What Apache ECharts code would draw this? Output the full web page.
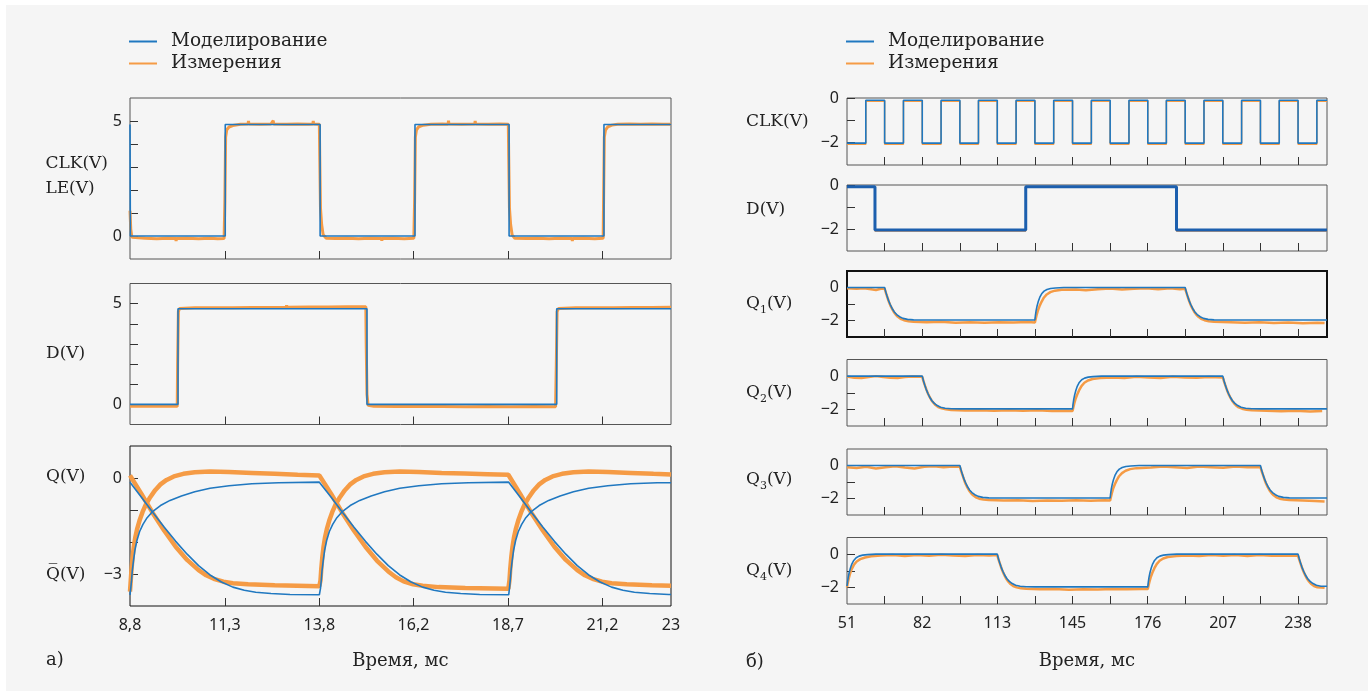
<!DOCTYPE html>
<html>
<head>
<meta charset="utf-8">
<script src="https://cdn.jsdelivr.net/npm/echarts@6/dist/echarts.min.js"></script>
<style>
  html, body { margin: 0; padding: 0; background: #fff; }
  #chartmain { width: 1368px; height: 691px; }
</style>
</head>
<body>
<div id="chartmain"></div>
<script>
// ---- данные (а): левая панель, время в мс ----
var xTicksA = [8.8, 11.29, 13.77, 16.24, 18.72, 21.2, 23];
var xLabelsA = ['8,8', '11,3', '13,8', '16,2', '18,7', '21,2', '23'];

// фронты CLK/LE (моделирование), начинается с высокого уровня
var clkEdgesA = [8.81, 11.3, 13.79, 16.28, 18.75, 21.24];
var clkLevelsA = [4.85, 0];
var clkMeasA = [[8.8,1.1],[8.82,0.3],[8.85,-0.05],[8.9,-0.11],[9.2,-0.1],[9.5,-0.12],[9.8,-0.1],[10.0,-0.11],[10.01,-0.22],[10.02,-0.11],[10.3,-0.1],[10.6,-0.12],[10.9,-0.1],[11.1,-0.12],[11.27,-0.11],
  [11.29,1.5],[11.31,4.3],[11.34,4.62],[11.4,4.74],[11.5,4.8],[11.7,4.86],[11.9,4.87],[11.91,5.0],[11.92,4.87],[12.2,4.86],[12.5,4.87],[12.55,4.87],[12.56,5.02],[12.57,4.87],[12.9,4.86],[13.2,4.87],[13.5,4.86],[13.6,4.87],[13.61,5.0],[13.62,4.87],[13.77,4.86],
  [13.78,3.5],[13.8,1.2],[13.83,0.5],[13.87,0.05],[13.95,-0.1],[14.2,-0.11],[14.5,-0.1],[14.8,-0.12],[15.1,-0.1],[15.4,-0.11],[15.41,-0.21],[15.42,-0.11],[15.7,-0.1],[16.0,-0.12],[16.25,-0.1],
  [16.27,1.5],[16.29,4.3],[16.32,4.62],[16.38,4.75],[16.5,4.82],[16.7,4.86],[17.0,4.87],[17.15,4.86],[17.16,5.02],[17.17,4.87],[17.5,4.86],[17.85,4.87],[17.86,5.0],[17.87,4.87],[18.2,4.86],[18.5,4.87],[18.73,4.86],
  [18.74,3.5],[18.76,1.2],[18.79,0.5],[18.83,0.05],[18.9,-0.1],[19.2,-0.11],[19.5,-0.1],[19.8,-0.12],[20.1,-0.1],[20.4,-0.11],[20.41,-0.22],[20.42,-0.11],[20.7,-0.1],[21.0,-0.12],[21.22,-0.1],
  [21.23,1.5],[21.25,4.3],[21.28,4.6],[21.34,4.74],[21.45,4.82],[21.6,4.86],[21.9,4.87],[22.2,4.86],[22.5,4.87],[22.8,4.86],[23,4.86]];

// D (моделирование), начинается с низкого уровня
var dEdgesA = [10.06, 15.02, 20.0];
var dLevelsA = [0, 4.75];
var dMeasA = [[8.8,-0.09],[9.2,-0.1],[9.6,-0.09],[10.04,-0.1],[10.05,2.0],[10.07,4.6],[10.1,4.76],[10.5,4.79],[11.0,4.8],[11.5,4.8],[12.0,4.81],[12.5,4.81],[12.9,4.82],[12.91,4.92],[12.92,4.82],[13.5,4.83],[14.0,4.83],[14.5,4.84],[14.99,4.84],
  [15.0,3.0],[15.02,0.5],[15.05,-0.05],[15.2,-0.1],[15.8,-0.11],[16.4,-0.1],[17.0,-0.11],[17.6,-0.12],[18.2,-0.11],[18.8,-0.12],[19.4,-0.11],[19.97,-0.12],
  [19.99,2.0],[20.01,4.6],[20.05,4.76],[20.5,4.79],[21.0,4.8],[21.5,4.8],[22.0,4.81],[22.5,4.81],[23,4.82]];

// Q и Q̄ (моделирование): форма переходов [t от начала такта, V] и начала тактов
var cycleStartsA = [8.8, 13.78, 18.74];
var riseShapeA = [[0,-3.65],[0.02,-3.45],[0.04,-3.2],[0.06,-2.9],[0.09,-2.6],[0.13,-2.25],[0.18,-1.96],[0.25,-1.68],[0.34,-1.45],[0.45,-1.24],[0.6,-1.04],[0.8,-0.86],[1.05,-0.7],[1.35,-0.56],[1.7,-0.43],[2.1,-0.32],[2.6,-0.24],[3.2,-0.18],[3.9,-0.15],[4.97,-0.13]];
var fallShapeA = [[0,-0.13],[0.3,-0.6],[0.6,-1.08],[0.9,-1.54],[1.2,-1.98],[1.5,-2.38],[1.8,-2.74],[2.1,-3.03],[2.4,-3.25],[2.7,-3.41],[3.0,-3.51],[3.3,-3.57],[3.7,-3.61],[4.2,-3.64],[4.97,-3.65]];

// Q и Q̄ (измерения)
var qMeasA = [[8.8,-3.55],[8.82,-3.2],[8.84,-2.85],[8.87,-2.45],[8.9,-2.15],[8.94,-1.85],[8.99,-1.58],[9.05,-1.33],[9.13,-1.06],[9.22,-0.82],[9.33,-0.6],[9.46,-0.38],[9.6,-0.2],[9.76,-0.06],[9.95,0.05],[10.2,0.13],[10.5,0.18],[10.9,0.2],[11.4,0.19],[12.0,0.16],[12.6,0.13],[13.2,0.1],[13.77,0.08],
  [13.78,0.1],[14.08,-0.5],[14.38,-1.1],[14.68,-1.65],[14.98,-2.15],[15.28,-2.58],[15.58,-2.92],[15.78,-3.1],[15.98,-3.23],[16.23,-3.32],[16.48,-3.37],[16.9,-3.41],[17.6,-3.44],[18.73,-3.46],
  [18.74,-3.5],[18.76,-3.2],[18.78,-2.85],[18.81,-2.45],[18.84,-2.15],[18.88,-1.85],[18.93,-1.58],[18.99,-1.33],[19.07,-1.06],[19.16,-0.82],[19.27,-0.6],[19.4,-0.38],[19.54,-0.2],[19.7,-0.06],[19.89,0.05],[20.14,0.13],[20.44,0.18],[20.84,0.2],[21.34,0.19],[21.94,0.16],[22.54,0.13],[23,0.11]];
var qbMeasA = [[8.8,0.08],[9.1,-0.5],[9.4,-1.1],[9.7,-1.65],[10.0,-2.15],[10.3,-2.56],[10.6,-2.88],[10.8,-3.04],[11.0,-3.15],[11.25,-3.24],[11.5,-3.29],[11.9,-3.32],[12.6,-3.35],[13.77,-3.38],
  [13.78,-3.42],[13.8,-3.2],[13.82,-2.85],[13.85,-2.45],[13.88,-2.15],[13.92,-1.85],[13.97,-1.58],[14.03,-1.33],[14.11,-1.06],[14.2,-0.82],[14.31,-0.6],[14.44,-0.38],[14.58,-0.2],[14.74,-0.06],[14.93,0.05],[15.18,0.13],[15.48,0.18],[15.88,0.2],[16.38,0.19],[16.98,0.16],[17.58,0.14],[18.18,0.12],[18.73,0.1],
  [18.74,0.1],[19.04,-0.5],[19.34,-1.1],[19.64,-1.65],[19.94,-2.15],[20.24,-2.56],[20.54,-2.88],[20.74,-3.04],[20.94,-3.15],[21.19,-3.24],[21.44,-3.29],[21.84,-3.32],[22.5,-3.35],[23,-3.37]];

// ---- данные (б): правая панель ----
var xTicksB = [51, 66.58, 82.17, 97.75, 113.33, 128.92, 144.5, 160.08, 175.67, 191.25, 206.83, 222.42, 238];
var xLabelsB = ['51', '', '82', '', '113', '', '145', '', '176', '', '207', '', '238'];

var clkEdgesB = [58.8, 66.6, 74.4, 82.2, 90.0, 97.8, 105.5, 113.3, 121.1, 128.9, 136.7, 144.5, 152.3, 160.1, 167.9, 175.7, 183.4, 191.2, 199.0, 206.8, 214.6, 222.4, 230.2, 238.0, 245.8];
var clkLevelsB = [-2.02, -0.1];
var clkMeasLevelsB = [-2.07, -0.15];
var dEdgesB = [62.6, 125.1, 187.6];
var dLevelsB = [-0.08, -2.05];
var dMeasLevelsB = [-0.1, -2.09];

// Q1..Q4 (моделирование): формы спада/нарастания и моменты переключения
var fallShapeB = [[0,0],[0.5,-0.28],[1.0,-0.52],[1.6,-0.78],[2.3,-1.03],[3.1,-1.27],[4.0,-1.48],[5.0,-1.64],[6.2,-1.77],[7.6,-1.87],[9.5,-1.93],[12,-1.96],[16,-1.97]];
var riseShapeB = [[0,-1.97],[0.2,-1.7],[0.5,-1.4],[0.9,-1.12],[1.4,-0.85],[2.0,-0.6],[2.8,-0.38],[3.8,-0.22],[5.0,-0.12],[6.5,-0.06],[8.5,-0.03],[12,0],[16,0]];
var q1Edges = [66.6, 128.9, 191.2];
var q2Edges = [82.2, 144.5, 206.8];
var q3Edges = [97.8, 160.1, 222.4];
var q4Edges = [51, 113.3, 175.7, 238.0];

var q1Meas = [[51,-0.05],[55,-0.08],[58,-0.05],[61,-0.1],[63,-0.15],[65,-0.08],[66.6,-0.06],[67.2,-0.36],[67.8,-0.62],[68.4,-0.88],[69.0,-1.1],[69.7,-1.3],[70.4,-1.48],[71.2,-1.64],[72.1,-1.78],[73.2,-1.9],[74.6,-1.98],[76.5,-2.04],[78.6,-2.07],[84,-2.1],[90,-2.08],[96,-2.13],[102,-2.1],[108,-2.14],[114,-2.1],[120,-2.12],[126,-2.09],[128.9,-2.12],
  [129.2,-1.92],[129.6,-1.68],[130.1,-1.42],[130.8,-1.14],[131.6,-0.88],[132.6,-0.62],[133.8,-0.42],[135.3,-0.28],[137.2,-0.19],[140,-0.14],[146,-0.12],[150,-0.17],[155,-0.1],[160,-0.06],[165,-0.12],[170,-0.08],[175,-0.04],[180,-0.1],[185,-0.05],[189,-0.1],[191.2,-0.08],
  [191.8,-0.36],[192.4,-0.62],[193.0,-0.88],[193.6,-1.1],[194.3,-1.3],[195.0,-1.48],[195.8,-1.64],[196.7,-1.78],[197.8,-1.9],[199.2,-1.98],[201,-2.04],[203.2,-2.07],[210,-2.1],[216,-2.14],[222,-2.1],[228,-2.15],[234,-2.12],[240,-2.16],[246,-2.13],[249,-2.15]];
var q2Meas = [[51,-0.02],[54,-0.1],[57,-0.12],[60,-0.06],[63,0],[66,-0.05],[69,-0.1],[72,-0.12],[75,-0.05],[78,-0.02],[82.2,-0.04],[82.8,-0.34],[83.4,-0.6],[84.0,-0.84],[84.6,-1.06],[85.3,-1.27],[86,-1.45],[86.8,-1.6],[87.7,-1.74],[88.8,-1.86],[90.2,-1.94],[92,-2.0],[94.2,-2.04],[100,-2.07],[106,-2.05],[112,-2.09],[118,-2.06],[124,-2.08],[130,-2.05],[136,-2.1],[142,-2.08],[144.5,-2.1],
  [144.8,-1.9],[145.2,-1.66],[145.7,-1.4],[146.4,-1.12],[147.2,-0.86],[148.2,-0.6],[149.4,-0.4],[150.9,-0.26],[152.8,-0.17],[156,-0.12],[161,-0.08],[166,-0.12],[171,-0.04],[176,-0.08],[181,-0.12],[186,-0.04],[191,-0.08],[196,-0.1],[201,-0.05],[206.8,-0.08],
  [207.4,-0.36],[208,-0.62],[208.6,-0.86],[209.2,-1.08],[209.9,-1.28],[210.6,-1.46],[211.4,-1.62],[212.3,-1.76],[213.4,-1.88],[214.8,-1.96],[216.6,-2.02],[218.8,-2.05],[225,-2.08],[231,-2.12],[237,-2.08],[243,-2.13],[248,-2.1]];
var q3Meas = [[51,-0.1],[55,-0.15],[59,-0.08],[63,-0.18],[67,-0.1],[71,-0.05],[75,-0.12],[79,-0.18],[83,-0.08],[87,-0.05],[91,-0.1],[95,-0.06],[97.8,-0.08],[98.4,-0.37],[99,-0.63],[99.6,-0.89],[100.2,-1.12],[100.9,-1.33],[101.6,-1.51],[102.4,-1.67],[103.3,-1.81],[104.4,-1.93],[105.8,-2.01],[107.6,-2.06],[109.8,-2.09],[116,-2.12],[122,-2.1],[128,-2.15],[134,-2.12],[140,-2.14],[146,-2.1],[152,-2.13],[158,-2.1],[160.1,-2.12],
  [160.4,-1.92],[160.8,-1.68],[161.3,-1.42],[162.0,-1.15],[162.8,-0.9],[163.8,-0.65],[165.0,-0.46],[166.5,-0.32],[168.4,-0.22],[171,-0.16],[177,-0.12],[182,-0.06],[187,-0.1],[192,-0.15],[197,-0.06],[202,-0.1],[207,-0.14],[212,-0.06],[217,-0.1],[222.4,-0.1],
  [223,-0.38],[223.6,-0.63],[224.2,-0.89],[224.8,-1.12],[225.5,-1.33],[226.2,-1.51],[227,-1.67],[227.9,-1.81],[229,-1.93],[230.4,-2.01],[232.2,-2.06],[234.4,-2.09],[240,-2.12],[245,-2.15],[249,-2.18]];
var q4Meas = [[51,-2.0],[51.3,-1.75],[51.7,-1.48],[52.2,-1.2],[52.9,-0.92],[53.8,-0.66],[55,-0.44],[56.5,-0.3],[58.5,-0.2],[61,-0.13],[65,-0.08],[70,-0.05],[75,-0.12],[80,-0.05],[85,-0.1],[90,-0.04],[95,-0.08],[100,-0.12],[105,-0.05],[110,-0.09],[113.3,-0.06],
  [113.9,-0.36],[114.5,-0.62],[115.1,-0.88],[115.7,-1.1],[116.4,-1.31],[117.1,-1.5],[117.9,-1.66],[118.8,-1.8],[119.9,-1.92],[121.3,-2.0],[123.1,-2.06],[125.3,-2.08],[131,-2.12],[137,-2.1],[143,-2.14],[149,-2.11],[155,-2.13],[161,-2.1],[167,-2.12],[173,-2.1],[175.7,-2.1],
  [176,-1.9],[176.4,-1.66],[176.9,-1.4],[177.6,-1.12],[178.4,-0.86],[179.4,-0.6],[180.6,-0.4],[182.1,-0.26],[184,-0.17],[187.5,-0.12],[192,-0.08],[197,-0.12],[202,-0.05],[207,-0.1],[212,-0.06],[217,-0.12],[222,-0.05],[227,-0.1],[232,-0.08],[238,-0.1],
  [238.6,-0.38],[239.2,-0.63],[239.8,-0.88],[240.4,-1.1],[241.1,-1.31],[241.8,-1.5],[242.6,-1.66],[243.5,-1.8],[244.6,-1.92],[246,-1.99],[249,-2.03]];

// ---- оформление ----
var BLUE = '#2078c0', ORANGE = '#f59b45', DBLUE = '#1c5fae';
var SERIF = 'DejaVu Serif', SANS = 'Noto Sans';
var SIM = 'Моделирование', MEAS = 'Измерения';

// ступенчатый сигнал из списка фронтов
function steps(edges, levels, x0, x1) {
    var pts = [[x0, levels[0]]];
    edges.forEach(function (e, i) {
        pts.push([e, levels[i % 2]]);
        pts.push([e, levels[(i + 1) % 2]]);
    });
    pts.push([x1, levels[edges.length % 2]]);
    return pts;
}
// переходы заданной формы, чередующиеся по списку моментов
function shaped(edges, shapes, x0, x1, y0) {
    var pts = [[x0, y0]];
    edges.forEach(function (e, i) {
        var sh = shapes[i % 2];
        var next = i + 1 < edges.length ? edges[i + 1] : x1;
        sh.forEach(function (p) { if (e + p[0] < next) pts.push([e + p[0], p[1]]); });
    });
    var last = pts[pts.length - 1];
    pts.push([x1, last[1]]);
    return pts;
}
function nearestLabel(vals, labels, v) {
    var best = 0;
    vals.forEach(function (t, i) { if (Math.abs(t - v) < Math.abs(vals[best] - v)) best = i; });
    return labels[best];
}
function minus(v) { return v < 0 ? '\u2212' + Math.abs(v) : String(v); }

var grids = [
    {left: 130, top: 98, width: 541, height: 161},
    {left: 130, top: 283.5, width: 541, height: 141},
    {left: 130, top: 446, width: 541, height: 160, borderColor: '#111'},
    {left: 847, top: 98, width: 480, height: 67},
    {left: 847, top: 185, width: 480, height: 66},
    {left: 847, top: 271, width: 480, height: 66, borderColor: '#111', borderWidth: 2},
    {left: 847, top: 359.5, width: 480, height: 66.5},
    {left: 847, top: 449, width: 480, height: 66},
    {left: 847, top: 537.5, width: 480, height: 66.5}
].map(function (g) {
    return Object.assign({show: true, borderColor: '#555', borderWidth: 1, backgroundColor: 'transparent'}, g);
});

function xAxis(i) {
    var left = i < 3, bottom = (i === 2 || i === 8);
    var vals = left ? xTicksA : xTicksB, labs = left ? xLabelsA : xLabelsB;
    return {
        type: 'value', gridIndex: i, position: 'bottom',
        min: left ? 8.8 : 51, max: left ? 23 : 250,
        axisLine: {show: false, onZero: false}, splitLine: {show: false},
        axisTick: {show: true, inside: true, length: 8, lineStyle: {color: '#333'},
            customValues: vals.slice(1, left ? vals.length - 1 : vals.length)},
        axisLabel: {show: bottom, margin: 11, color: '#222', fontFamily: SANS, fontSize: 16,
            customValues: vals.filter(function (v, k) { return labs[k] !== ''; }),
            formatter: function (v) { return nearestLabel(vals, labs, v); }},
        name: bottom ? 'Время, мс' : '', nameLocation: 'middle', nameGap: i === 2 ? 46 : 48,
        nameTextStyle: {fontFamily: SERIF, fontSize: 18, color: '#222'}
    };
}

var subRich = {
    q: {fontFamily: SERIF, fontSize: 17, color: '#222', lineHeight: 24},
    s: {fontFamily: SERIF, fontSize: 11, color: '#222', verticalAlign: 'bottom', lineHeight: 12}
};
var yDefs = [
    {min: -1, max: 6, ticks: [0, 1, 2, 3, 4, 5], labels: [0, 5], name: 'CLK(V)\nLE(V)', lh: 25, pad: [0, 0, 4, 0]},
    {min: -1, max: 6, ticks: [0, 1, 2, 3, 4, 5], labels: [0, 5], name: 'D(V)', lh: 20, pad: [0, 0, 0, 0]},
    {min: -4, max: 1, ticks: [0, -1, -2, -3], labels: [0, -3], name: 'Q(V)\nQ\u0305(V)', lh: 98, pad: [0, 0, 0, 0]},
    {min: -3, max: 0, ticks: [0, -1, -2], labels: [0, -2], name: 'CLK(V)', lh: 20, pad: [0, 0, 20, 0]},
    {min: -3, max: 0, ticks: [0, -1, -2], labels: [0, -2], name: 'D(V)', lh: 20, pad: [0, 0, 17, 0]},
    {min: -3, max: 1, ticks: [0, -1, -2], labels: [0, -2], name: '{q|Q}{s|1}{q|(V)}', lh: 24, pad: [0, 0, 0, 0]},
    {min: -3, max: 1, ticks: [0, -1, -2], labels: [0, -2], name: '{q|Q}{s|2}{q|(V)}', lh: 24, pad: [0, 0, 0, 0]},
    {min: -3, max: 1, ticks: [0, -1, -2], labels: [0, -2], name: '{q|Q}{s|3}{q|(V)}', lh: 24, pad: [0, 0, 4, 0]},
    {min: -3, max: 1, ticks: [0, -1, -2], labels: [0, -2], name: '{q|Q}{s|4}{q|(V)}', lh: 24, pad: [0, 0, 0, 0]}
];
function yAxis(d, i) {
    return {
        type: 'value', gridIndex: i, min: d.min, max: d.max, position: 'left',
        axisLine: {show: false, onZero: false}, splitLine: {show: false},
        axisTick: {show: true, inside: true, length: 8, lineStyle: {color: '#333'}, customValues: d.ticks},
        axisLabel: {margin: 8, color: '#222', fontFamily: SANS, fontSize: 16, customValues: d.labels, formatter: minus},
        name: d.name, nameLocation: 'middle', nameRotate: 0, nameGap: i < 3 ? 84 : 101,
        nameTextStyle: {align: 'left', verticalAlign: 'middle', fontFamily: SERIF, fontSize: 17, color: '#222',
            lineHeight: d.lh, padding: d.pad, rich: subRich}
    };
}

function ser(name, data, i, color, width) {
    return {
        type: 'line', name: name, data: data, xAxisIndex: i, yAxisIndex: i,
        showSymbol: false, symbol: 'none', animation: false, silent: true,
        z: name === SIM ? 3 : 2,
        lineStyle: {color: color, width: width}, itemStyle: {color: color}
    };
}

var series = [
    ser(MEAS, clkMeasA, 0, ORANGE, 3),
    ser(SIM, steps(clkEdgesA, clkLevelsA, 8.8, 23), 0, BLUE, 1.6),
    ser(MEAS, dMeasA, 1, ORANGE, 3),
    ser(SIM, steps(dEdgesA, dLevelsA, 8.8, 23), 1, BLUE, 1.6),
    ser(MEAS, qMeasA, 2, ORANGE, 4.5),
    ser(MEAS, qbMeasA, 2, ORANGE, 4.5),
    ser(SIM, shaped(cycleStartsA, [riseShapeA, fallShapeA], 8.8, 23, -3.65), 2, BLUE, 1.6),
    ser(SIM, shaped(cycleStartsA, [fallShapeA, riseShapeA], 8.8, 23, -0.13), 2, BLUE, 1.6),
    ser(MEAS, steps(clkEdgesB, clkMeasLevelsB, 51, 250), 3, ORANGE, 1.5),
    ser(SIM, steps(clkEdgesB, clkLevelsB, 51, 250), 3, BLUE, 1.6),
    ser(MEAS, steps(dEdgesB, dMeasLevelsB, 51, 250), 4, ORANGE, 1.5),
    ser(SIM, steps(dEdgesB, dLevelsB, 51, 250), 4, DBLUE, 3),
    ser(MEAS, q1Meas, 5, ORANGE, 2.5),
    ser(SIM, shaped(q1Edges, [fallShapeB, riseShapeB], 51, 250, 0), 5, BLUE, 1.6),
    ser(MEAS, q2Meas, 6, ORANGE, 2.5),
    ser(SIM, shaped(q2Edges, [fallShapeB, riseShapeB], 51, 250, 0), 6, BLUE, 1.6),
    ser(MEAS, q3Meas, 7, ORANGE, 2.5),
    ser(SIM, shaped(q3Edges, [fallShapeB, riseShapeB], 51, 250, 0), 7, BLUE, 1.6),
    ser(MEAS, q4Meas, 8, ORANGE, 2.5),
    ser(SIM, shaped(q4Edges, [riseShapeB, fallShapeB], 51, 250, -1.92), 8, BLUE, 1.6)
];

function legend(left) {
    return {
        left: left, top: 27, orient: 'vertical', selectedMode: false,
        icon: 'rect', itemWidth: 28, itemHeight: 2, itemGap: 3,
        data: [SIM, MEAS],
        textStyle: {fontFamily: SERIF, fontSize: 18.5, color: '#222', lineHeight: 18, padding: [0, 0, 0, 9]}
    };
}

var chart = echarts.init(document.getElementById('chartmain'));
chart.setOption({
    backgroundColor: '#f5f5f5',
    animation: false,
    grid: grids,
    xAxis: grids.map(function (g, i) { return xAxis(i); }),
    yAxis: yDefs.map(yAxis),
    legend: [legend(124), legend(841)],
    graphic: [
        {type: 'rect', left: 0, top: 0, shape: {width: 1368, height: 5}, style: {fill: '#fff'}, silent: true},
        {type: 'rect', left: 0, top: 0, shape: {width: 6, height: 691}, style: {fill: '#fff'}, silent: true},
        {type: 'text', left: 46, top: 651, style: {text: 'а)', fontFamily: SERIF, fontSize: 18, fill: '#222'}},
        {type: 'text', left: 746, top: 653, style: {text: 'б)', fontFamily: SERIF, fontSize: 18, fill: '#222'}}
    ],
    series: series
});
</script>
</body>
</html>
